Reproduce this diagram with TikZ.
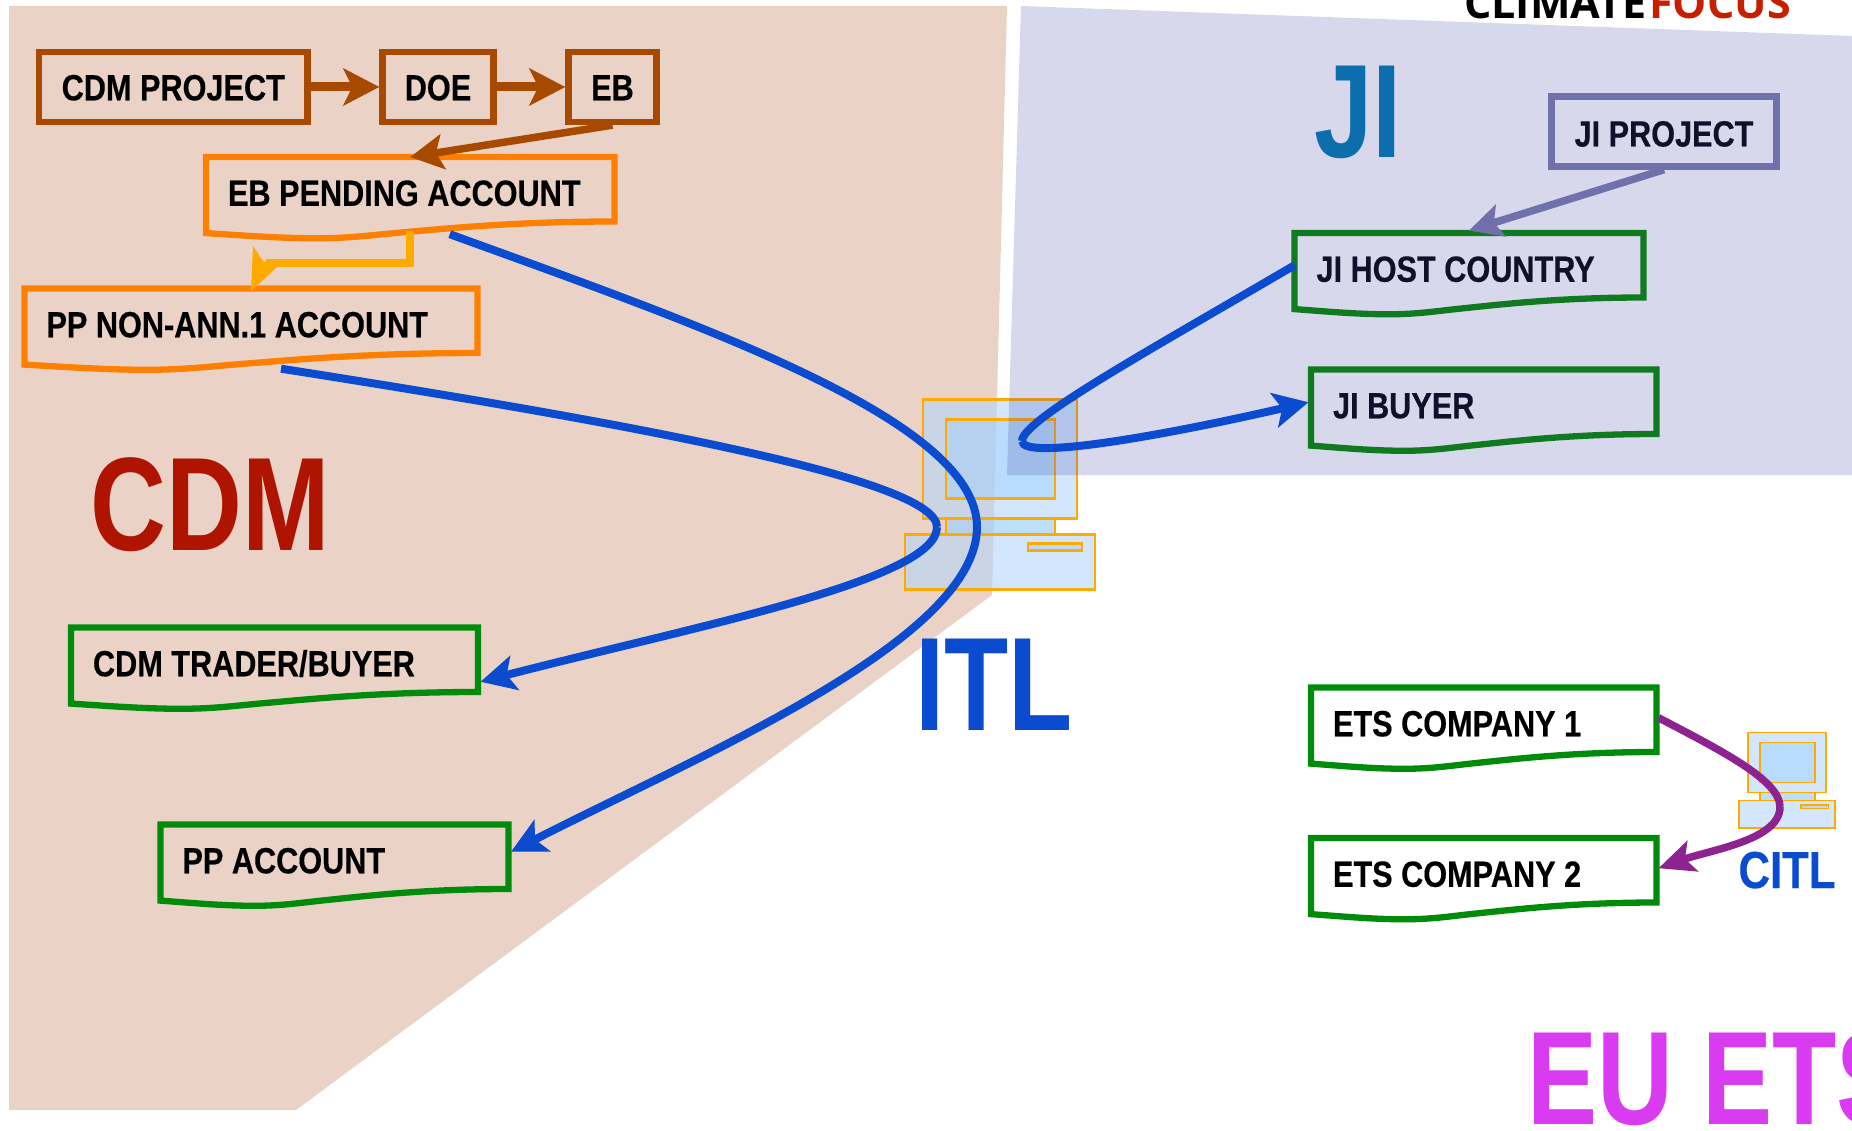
\documentclass[tikz,border=0pt]{standalone}
\usepackage{fontspec}
\usetikzlibrary{arrows.meta}
\setmainfont[FakeStretch=0.84,BoldFeatures={FakeBold=0.35}]{Liberation Sans}
\newfontfamily\bigfam[FakeStretch=0.79]{Liberation Sans}
\newfontfamily\logofont{Open Sans}
\definecolor{cdmbg}{HTML}{EAD3C6}
\definecolor{jibg}{HTML}{494EA8}
\definecolor{brownc}{HTML}{A84900}
\definecolor{orangec}{HTML}{FF7F00}
\definecolor{yellowc}{HTML}{FFAA00}
\definecolor{greenc}{HTML}{008C0A}
\definecolor{greenji}{HTML}{107A20}
\definecolor{jiline}{HTML}{7070AB}
\definecolor{bluec}{HTML}{0A4BD0}
\definecolor{purplec}{HTML}{8F2291}
\definecolor{cdmred}{HTML}{AE1400}
\definecolor{jiblue}{HTML}{0D6EAD}
\definecolor{etsmag}{HTML}{D93CF0}
\definecolor{logored}{HTML}{C81E00}
\definecolor{jitext}{HTML}{10102A}
\definecolor{compouter}{HTML}{B0D5FC}
\definecolor{compinner}{HTML}{A0D1FD}
\tikzset{
  rectbox/.style={draw=#1,line width=6.3pt,inner sep=0pt,font=\boxfont},
  docline/.style={draw=#1,line width=6.3pt,line join=miter},
  doclabel/.style={inner sep=0pt,font=\boxfont,text height=0pt,text depth=0pt},
  bigtext/.style={font=\bigfont,inner sep=0pt,text height=0pt,text depth=0pt},
  brownarrow/.style={draw=brownc,line width=#1,-{Stealth[length=36pt,width=37pt,inset=9pt,fill=brownc]}},
  bluearrow/.style={draw=bluec,line width=8pt,line cap=butt,-{Stealth[length=35pt,width=35pt,inset=8pt,fill=bluec]}},
  blueline/.style={draw=bluec,line width=8pt},
}
\newcommand{\boxfont}{\fontsize{36.5}{40}\selectfont\bfseries}
\newcommand{\bigfont}{\fontsize{133}{137}\bigfam\selectfont\bfseries}
\newcommand{\boxtext}[1]{\smash{\raisebox{-13.3pt}{#1}}}
\newcommand{\bigtxt}[1]{\smash{\raisebox{-46pt}{#1}}}
% name, x, y (top left of centre line), width, colour, text colour, text
\newcommand{\docbox}[7]{%
  \begin{scope}[shift={(#2,#3)},x=#4pt,y=-64.5pt]
    \path[docline=#5] (0,0) -- (1,0) -- (1,1)
       .. controls (.75,1.0) and (.58,1.115) .. (.47,1.175)
       .. controls (.40,1.215) and (.35,1.26) .. (.27,1.26)
       .. controls (.18,1.26) and (.1,1.22) .. (0,1.18) -- cycle;
    \coordinate (#1-t) at (.5,0);
    \coordinate (#1-b) at (.5,1.15);
    \coordinate (#1-l) at (0,.5);
    \coordinate (#1-r) at (1,.5);
  \end{scope}
  \node[doclabel,text=#6] (#1) at ({#2+#4/2},{#3+35.5}) {\makebox[#4pt][l]{\hspace*{22pt}\boxtext{#7}}};
}
% x, y of the base's top left, scale, outline width
\newcommand{\computer}[4]{%
  \begin{scope}[shift={(#1,#2)},x=#3pt,y=-#3pt,line width=#4pt]
    \filldraw[draw=yellowc,fill=compouter,fill opacity=.57] (18,-135) rectangle (172,-16);
    \filldraw[draw=yellowc,fill=compinner,fill opacity=.5] (41,-115) rectangle (150,-36);
    \filldraw[draw=yellowc,fill=compinner,fill opacity=.7] (41,-16) rectangle (150,0);
    \filldraw[draw=yellowc,fill=compouter,fill opacity=.57] (0,0) rectangle (190,55);
    \filldraw[draw=yellowc,fill=compinner,fill opacity=.5] (123,9) rectangle (177,16);
  \end{scope}
}
\begin{document}
\begin{tikzpicture}[x=1pt,y=-1pt]
\clip (0,0) rectangle (1852,1131);
\fill[cdmbg] (9,6) -- (1007,6) -- (992,595) -- (296,1110) -- (9,1110) -- cycle;
\computer{905}{534.5}{1}{2.2}
\fill[jibg,fill opacity=.22] (1021,6) -- (1852,36) -- (1852,475) -- (1007,475) -- cycle;
\computer{1739}{800.5}{.505}{1.6}

\node[anchor=base west,inner sep=0pt,font=\fontsize{43}{47}\selectfont\logofont\bfseries] (logo) at (1464,19) {CLIMATE\hspace{3pt}\textcolor{logored}{FOCUS}};

% plain boxes
\node[rectbox=brownc,minimum width=268.4pt,minimum height=70pt] (cdmproject) at (173.3,87) {\boxtext{CDM PROJECT}};
\node[rectbox=brownc,minimum width=111pt,minimum height=70pt] (doe) at (438,87) {\boxtext{DOE}};
\node[rectbox=brownc,minimum width=88pt,minimum height=70pt] (eb) at (612.5,87) {\boxtext{EB}};
\node[rectbox=jiline,text=jitext,minimum width=225pt,minimum height=70pt] (jiproject) at (1664,131.5) {\smash{\raisebox{-15pt}{JI PROJECT}}};

% account boxes
\docbox{ebpending}{206}{157}{408.5}{orangec}{black}{EB PENDING ACCOUNT}
\docbox{ppnon}{24.5}{288.5}{453}{orangec}{black}{PP NON-ANN.1 ACCOUNT}
\docbox{cdmtrader}{71}{627.5}{407}{greenc}{black}{CDM TRADER/BUYER}
\docbox{ppaccount}{160.5}{824.5}{348}{greenc}{black}{PP ACCOUNT}
\docbox{jihost}{1294.5}{233}{349}{greenji}{jitext}{JI HOST COUNTRY}
\docbox{jibuyer}{1311}{369.5}{345.5}{greenji}{jitext}{JI BUYER}
\docbox{ets1}{1311}{687.5}{345.5}{greenc}{black}{ETS COMPANY 1}
\docbox{ets2}{1311}{838}{345.5}{greenc}{black}{ETS COMPANY 2}

% large labels
\node[bigtext,text=cdmred] (cdm) at (210,504) {\bigtxt{CDM}};
\node[bigtext,text=jiblue] (ji) at (1358,112) {\bigtxt{JI}};
\node[bigtext,text=bluec] (itl) at (994,684) {\bigtxt{ITL}};
\node[bigtext,text=etsmag,anchor=west] (euets) at (1527,1078) {\bigtxt{EU ETS}};
\node[inner sep=0pt,text height=0pt,text depth=0pt,text=bluec,font=\fontsize{52}{56}\selectfont\bfseries] (citl) at (1787,869) {\smash{\raisebox{-19pt}{CITL}}};

% brown and slate connectors
\draw[brownarrow=9pt] (cdmproject.east) -- (doe.west);
\draw[brownarrow=9pt] (doe.east) -- (eb.west);
\draw[draw=brownc,line width=7.5pt,-{Stealth[length=33pt,width=35pt,inset=7pt,fill=brownc]}] (eb.south) -- (ebpending-t);
\draw[draw=jiline,line width=7.5pt,-{Stealth[length=33pt,width=33pt,inset=7pt,fill=jiline]}] (jiproject.south) -- ([yshift=2.5pt]jihost-t);

% yellow elbow
\coordinate (elbow) at (266,263.5);
\draw[yellowc,line width=8pt] (ebpending-b) |- (elbow);
\fill[yellowc] ([yshift=-3pt]ppnon-t) -- (253,246) -- (263,261) -- (277,267) -- cycle;

% blue connectors
\coordinate (apexa) at (977,527);
\coordinate (apexb) at (937,527);
\coordinate (apexc) at (1022,441);
\draw[blueline] ([shift={(39.5,3)}]ebpending-b) .. controls (700,325) and (977,420) .. (apexa);
\draw[bluearrow] (apexa) .. controls (977,640) and (700,755) .. ([shift={(2.5,-5)}]ppaccount-r);
\draw[blueline] ([shift={(30,6)}]ppnon-b) .. controls (640,425) and (937,480) .. (apexb);
\draw[bluearrow] (apexb) .. controls (937,580) and (700,625) .. ([shift={(2.5,22)}]cdmtrader-r);
\draw[blueline] (jihost-l) .. controls (1150,350) and (1022,420) .. (apexc);
\draw[bluearrow] (apexc) .. controls (1022,462) and (1180,432) .. ([shift={(-2.5,0.5)}]jibuyer-l);

% purple connector
\coordinate (apexd) at (1780,807);
\draw[purplec,line width=7.5pt] ([shift={(2,-2)}]ets1-r) .. controls (1720,750) and (1780,780) .. (apexd);
\draw[purplec,line width=7.5pt,-{Stealth[length=36pt,width=32pt,inset=8pt,fill=purplec]}] (apexd) .. controls (1780,840) and (1710,850) .. ([shift={(2,-2)}]ets2-r);
\end{tikzpicture}
\end{document}
